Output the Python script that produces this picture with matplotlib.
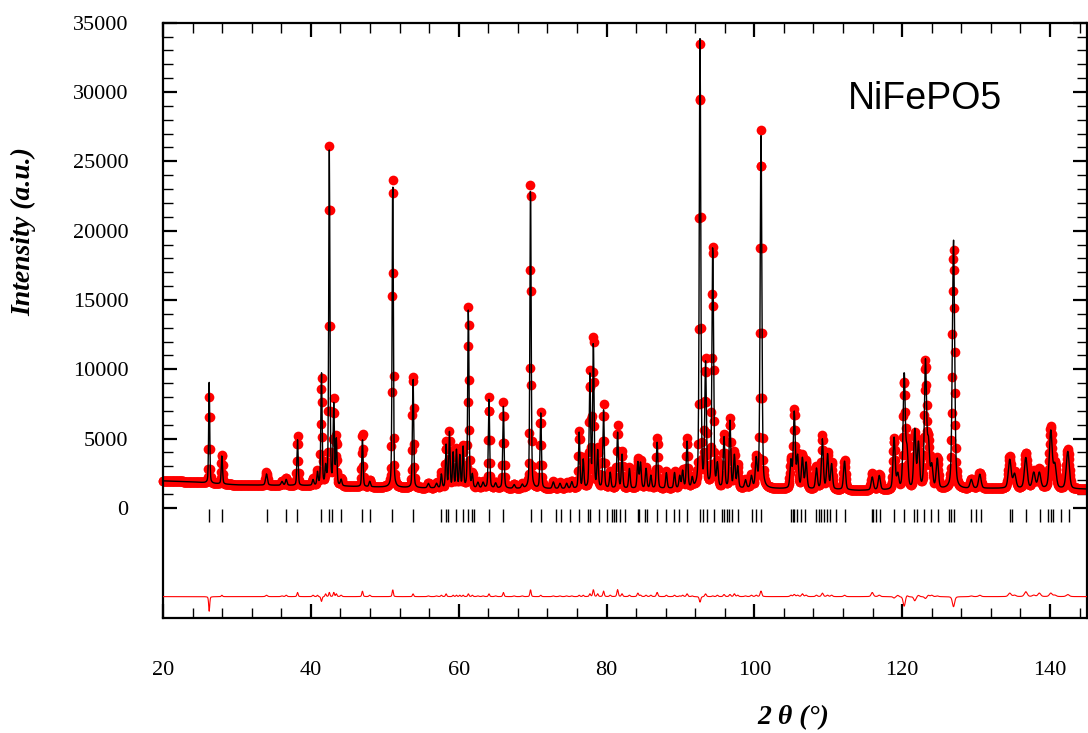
import numpy as np
import matplotlib
matplotlib.use("Agg")
import matplotlib.pyplot as plt
from matplotlib.ticker import MultipleLocator, FixedLocator

# ---------------- data ----------------
# Reflection positions (2theta, deg), observed peak-top intensity, calculated peak-top intensity, FWHM (deg)
peak_pos = [26.25, 27.97, 34.0, 36.1, 36.67, 38.2, 40.3, 40.9, 41.44, 42.0, 42.5, 43.1, 43.45, 44.1,
            46.98, 47.97, 51.08, 53.83, 55.9, 57.0, 57.66, 58.3, 58.75, 59.25, 59.7, 60.15, 60.6,
            61.31, 61.85, 62.6, 63.3, 64.1, 65.0, 66.05, 67.5, 68.6, 69.72, 71.1, 72.8, 73.7, 74.6,
            75.3, 76.3, 76.85, 77.75, 78.22, 78.8, 79.6, 80.5, 81.5, 82.1, 83.1, 84.24, 84.6, 85.35,
            86.0, 86.85, 88.1, 89.2, 89.9, 90.3, 90.9, 91.6, 92.65, 93.4, 94.37, 95.0, 95.9, 96.7,
            97.3, 97.75, 98.8, 99.6, 100.25, 100.9, 104.95, 105.4, 105.85, 106.5, 107.0, 108.4,
            109.2, 109.9, 110.45, 112.2, 115.95, 116.9, 118.9, 119.4, 120.27, 120.65, 121.7, 122.2,
            123.15, 123.55, 124.0, 124.75, 126.94, 129.35, 130.5, 134.55, 135.2, 136.72, 137.8,
            138.55, 140.1, 140.65, 142.4]
peak_obs = [8000, 3900, 2550, 1950, 2150, 5200, 2100, 2600, 9350, 3000, 26000, 7600, 5000, 2100,
            5400, 2000, 24400, 9700, 1800, 1800, 2500, 4700, 5400, 4000, 4200, 3800, 4400,
            14500, 2400, 1850, 1850, 8000, 1800, 7600, 1700, 1700, 24000, 6900, 1900, 1800, 1800,
            1900, 5500, 3500, 9700, 12400, 4200, 7400, 2600, 5900, 4000, 2900, 3500, 3300, 2900,
            2400, 5000, 2600, 2600, 2300, 2700, 4900, 2100, 33300, 10400, 19000, 3100, 5150, 6350,
            3900, 3000, 2000, 2300, 3400, 27200, 3400, 6950, 3700, 3700, 3300, 2900,
            5150, 3900, 3200, 3450, 2500, 2400, 4900, 2400, 8900, 4000, 5200, 4600,
            10300, 4500, 3000, 3500, 18600, 2050, 2500, 3700, 2500, 3950, 2600,
            2750, 5750, 3100, 4200]
peak_calc = [9050, 3800, 2450, 1900, 2050, 4900, 2000, 2500, 9700, 2800, 25700, 7300, 4800, 2000,
             5000, 1900, 23900, 9500, 1750, 1750, 2400, 4500, 5400, 3900, 4100, 3700, 4300,
             14300, 2300, 1800, 1800, 7800, 1750, 7300, 1650, 1650, 23500, 6800, 1850, 1750, 1750,
             1850, 5400, 3400, 9500, 11900, 4000, 7000, 2500, 5400, 3800, 2800, 3250, 3200, 2800,
             2300, 4700, 2500, 2500, 2250, 2600, 4700, 2050, 33700, 10200, 18950, 3000, 5000, 6200,
             3700, 2900, 1950, 2200, 3300, 26800, 3300, 6800, 3600, 3500, 3200, 2800,
             4900, 3800, 3100, 3350, 2200, 2300, 5000, 2300, 9600, 3900, 5500, 4500,
             10440, 4400, 2900, 3450, 19330, 2000, 2400, 3450, 2400, 3600, 2500,
             2500, 5500, 3000, 4050]
peak_fwhm = [0.17, 0.2, 0.3, 0.3, 0.25, 0.2, 0.25, 0.2, 0.2, 0.2, 0.19, 0.2, 0.2, 0.25,
             0.2, 0.25, 0.19, 0.2, 0.3, 0.3, 0.22, 0.2, 0.2, 0.2, 0.2, 0.2, 0.2,
             0.21, 0.22, 0.3, 0.3, 0.21, 0.3, 0.21, 0.3, 0.3, 0.2, 0.22, 0.3, 0.3, 0.3,
             0.3, 0.22, 0.22, 0.22, 0.22, 0.22, 0.22, 0.25, 0.23, 0.23, 0.25, 0.25, 0.25, 0.25,
             0.25, 0.25, 0.25, 0.25, 0.25, 0.25, 0.25, 0.25, 0.24, 0.26, 0.25, 0.26, 0.26, 0.26,
             0.26, 0.26, 0.3, 0.3, 0.28, 0.27, 0.3, 0.3, 0.3, 0.3, 0.3, 0.3,
             0.3, 0.3, 0.3, 0.32, 0.35, 0.35, 0.33, 0.33, 0.33, 0.33, 0.33, 0.33,
             0.34, 0.34, 0.35, 0.35, 0.36, 0.4, 0.4, 0.45, 0.45, 0.45, 0.45,
             0.45, 0.45, 0.45, 0.48]

# Background level (2theta, intensity)
bg_pos = [20, 24, 27, 30, 40, 45, 55, 70, 90, 103, 112, 114, 125, 132, 145]
bg_int = [1950, 1880, 1750, 1660, 1600, 1540, 1430, 1370, 1380, 1370, 1300, 1250, 1320, 1400, 1350]

# Bragg reflection markers (2theta)
bragg_pos = [26.22, 27.93, 34.01, 36.62, 38.15, 41.44, 42.48, 42.93, 44.05, 46.98, 47.97, 51.04,
             53.83, 57.66, 58.24, 58.56, 59.6, 60.59, 61.26, 61.85, 62.03, 64.05, 66.0, 69.73,
             71.08, 73.1, 73.87, 75.09, 76.26, 77.48, 77.73, 78.99, 80.12, 80.79, 81.0, 81.22,
             81.8, 82.44, 84.24, 84.46, 85.27, 85.45, 86.85, 88.07, 89.19, 89.87, 90.9, 92.71,
             93.02, 93.61, 94.51, 95.63, 95.95, 96.26, 96.62, 96.99, 97.75, 99.69, 100.23, 100.9,
             104.96, 105.18, 105.41, 105.77, 106.31, 106.9, 108.34, 108.7, 109.01, 109.46,
             109.78, 110.23, 111.04, 112.3, 115.9, 116.08, 116.44, 117.03, 118.92, 120.27,
             121.63, 121.94, 122.98, 123.88, 124.78, 126.35, 126.58, 126.94, 129.28, 130.05,
             130.63, 134.55, 134.82, 136.72, 138.61, 139.78, 140.09, 140.41, 141.44, 142.57]

step = 0.05
diff_offset = -6400
label_text = "NiFePO5"

# ---------------- profile model ----------------
tt = np.arange(20.0, 145.0 + step / 2, step)
bg = np.interp(tt, bg_pos, bg_int)


def profile(tops):
    y = bg.copy()
    eta = 0.35
    for p, h, w in zip(peak_pos, tops, peak_fwhm):
        amp = h - np.interp(p, bg_pos, bg_int)
        d = (tt - p) / w
        g = np.exp(-4 * np.log(2) * d ** 2)
        l = 1.0 / (1.0 + 4 * d ** 2)
        y += amp * ((1 - eta) * g + eta * l)
    return y


y_obs = profile(peak_obs)
y_calc = profile(peak_calc)
y_diff = y_obs - y_calc + diff_offset

# ---------------- figure ----------------
W, H = 1088, 733
fig = plt.figure(figsize=(W / 100, H / 100), dpi=100)
x0, x1, ytop, ybot = 163, 1087, 22.7, 617.7
ax = fig.add_axes([x0 / W, 1 - ybot / H, (x1 - x0) / W, (ybot - ytop) / H])

ax.plot(tt, y_obs, 'o', color='#ff0000', markersize=7, markeredgewidth=0,
        clip_on=False, zorder=2)
ax.plot(tt, y_calc, '-', color='black', linewidth=1.0, zorder=3)
ax.plot(tt, y_diff, '-', color='#ff0000', linewidth=0.8, zorder=3)
ax.vlines(bragg_pos, -1050, -80, color='black', linewidth=1.0, zorder=3)

ax.set_xlim(20, 145)
ax.set_ylim(-7920, 35000)

ax.xaxis.set_major_locator(MultipleLocator(20))
ax.xaxis.set_minor_locator(MultipleLocator(4))
ax.yaxis.set_major_locator(FixedLocator(np.arange(0, 35001, 5000)))
ax.yaxis.set_minor_locator(FixedLocator(np.arange(1000, 35000, 1000)))
ax.set_xticks(np.arange(20, 141, 20))

for s in ax.spines.values():
    s.set_linewidth(1.6)
ax.tick_params(which='both', direction='in', top=True, right=True)
ax.tick_params(which='major', length=10, width=1.6)
ax.tick_params(which='minor', length=7, width=1.0)
ax.tick_params(axis='y', which='major', pad=25)
ax.tick_params(axis='x', which='major', pad=31)
for t in ax.get_yticklabels():
    t.set_fontfamily('Liberation Serif')
    t.set_fontsize(16)
for t in ax.get_xticklabels():
    t.set_fontfamily('Liberation Serif')
    t.set_fontsize(16)

ax.text(123.1, 29500, label_text, ha='center', va='center', fontsize=27,
        family='Liberation Sans')

fig.text(24 / W, 1 - 231 / H, 'Intensity (a.u.)', rotation=90, ha='center', va='center',
         fontsize=20, fontweight='bold', fontstyle='italic', family='Liberation Serif')
fig.text(793 / W, 1 - 718 / H, '2 θ (°)', ha='center', va='center',
         fontsize=20, fontweight='bold', fontstyle='italic', family='Liberation Serif')

fig.savefig('out.png', dpi=100)
